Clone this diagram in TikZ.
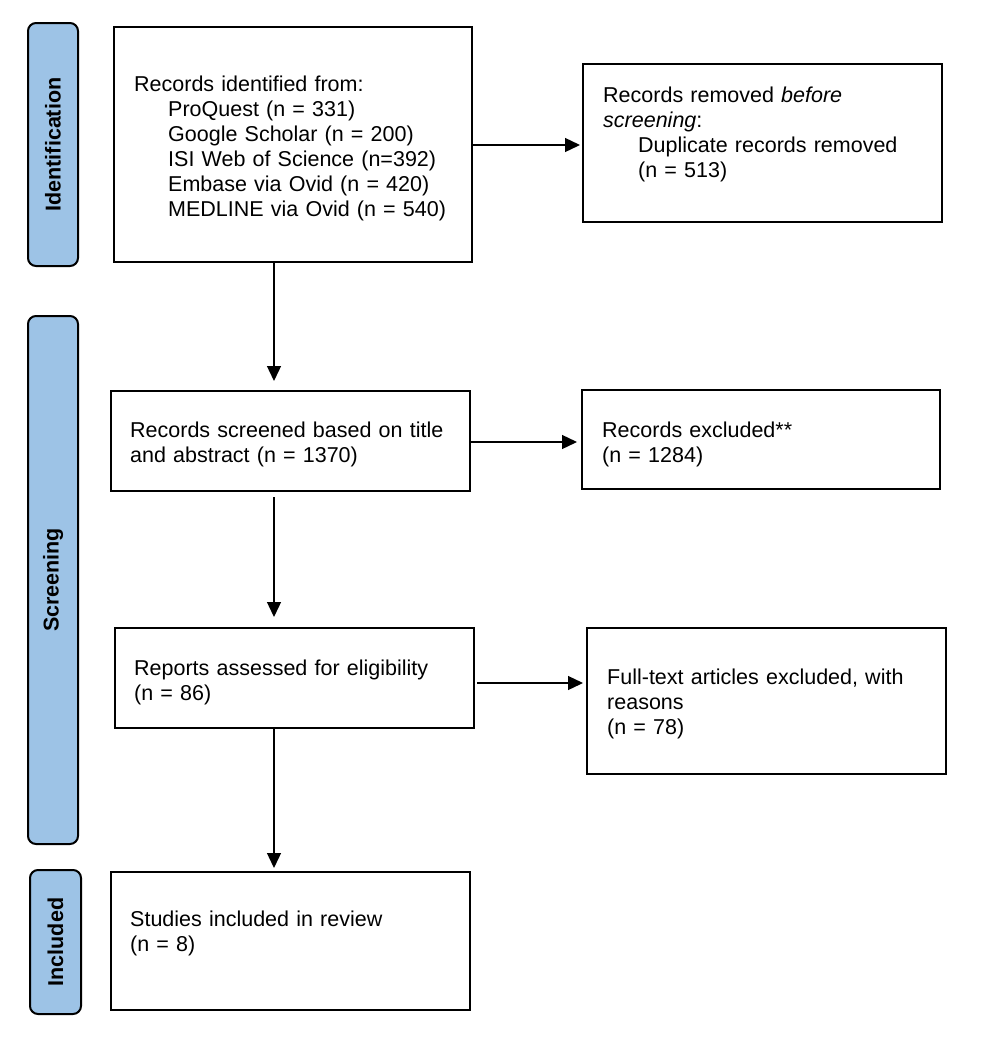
\documentclass[tikz,border=0pt]{standalone}
\usepackage{fontspec}
\setmainfont{Liberation Sans}
\usetikzlibrary{arrows.meta,calc}
\definecolor{barblue}{HTML}{9DC3E6}
\begin{document}
\begin{tikzpicture}[x=1pt,y=-1pt,
  box/.style={draw=black, line width=2pt, inner sep=0pt, outer sep=0pt, fill=white},
  bar/.style={draw=black, line width=2pt, fill=barblue, rounded corners=8pt, inner sep=0pt, outer sep=0pt},
  barlabel/.style={rotate=90, font=\fontsize{21.5}{25}\selectfont\bfseries, inner sep=0pt},
  txt/.style={anchor=base west, inner sep=0pt, align=left, text width=340pt, font=\fontsize{21.5}{25}\selectfont},
  arr/.style={line width=1.3pt, -{Triangle[length=15pt,width=14pt]}}
]
\useasboundingbox (0,0) rectangle (986,1039);
\fill[white] (0,0) rectangle (986,1039);

% side bars
\node[bar, minimum width=50pt, minimum height=243pt] (barI) at (53,144.5) {};
\node[barlabel] (labI) at (barI.center) {Identification};
\node[bar, minimum width=50pt, minimum height=528pt] (barS) at (53,580) {};
\node[barlabel] (labS) at (barS.center) {Screening};
\node[bar, minimum width=51pt, minimum height=144pt] (barN) at (55.5,942) {};
\node[barlabel] (labN) at (barN.center) {Included};

% boxes
\node[box, minimum width=358pt, minimum height=235pt] (ident) at (293,144.5) {};
\node[box, minimum width=359pt, minimum height=158pt] (removed) at (762.5,143) {};
\node[box, minimum width=359pt, minimum height=100pt] (screen) at (290.5,441) {};
\node[box, minimum width=358pt, minimum height=99pt] (excl) at (761,439.5) {};
\node[box, minimum width=359pt, minimum height=100pt] (reports) at (294.5,678) {};
\node[box, minimum width=359pt, minimum height=146pt] (full) at (766.5,701) {};
\node[box, minimum width=359pt, minimum height=138pt] (studies) at (290.5,941) {};

% texts
\node[txt] (tIdent) at (134,91) {Records identified from:\\
\hspace*{34pt}ProQuest (n = 331)\\
\hspace*{34pt}Google Scholar (n = 200)\\
\hspace*{34pt}ISI Web of Science (n=392)\\
\hspace*{34pt}Embase via Ovid (n = 420)\\
\hspace*{34pt}MEDLINE via Ovid (n = 540)};
\node[txt] (tRemoved) at (603,102) {Records removed \textit{before}\\
\textit{screening}:\\
\hspace*{35pt}Duplicate records removed\\
\hspace*{35pt}(n = 513)};
\node[txt] (tScreen) at (130,437) {Records screened based on title\\and abstract (n = 1370)};
\node[txt] (tExcl) at (602,437) {Records excluded**\\(n = 1284)};
\node[txt] (tReports) at (134,675) {Reports assessed for eligibility\\(n = 86)};
\node[txt] (tFull) at (607,684) {Full-text articles excluded, with\\reasons\\(n = 78)};
\node[txt] (tStudies) at (130,926) {Studies included in review\\(n = 8)};

% connectors
\coordinate (ax) at (274,0);
\draw[arr, shorten >=10pt] (ident.south -| ax) -- (screen.north -| ax);
\draw[arr, shorten <=6pt, shorten >=11pt] (screen.south -| ax) -- (reports.north -| ax);
\draw[arr, shorten >=4pt] (reports.south -| ax) -- (studies.north -| ax);
\draw[arr, shorten >=3pt] ([yshift=-0.5pt]ident.east) -- ([yshift=-0.5pt]ident.east -| removed.west);
\draw[arr, shorten >=5pt] ([yshift=-1pt]screen.east) -- ([yshift=-1pt]screen.east -| excl.west);
\draw[arr, shorten <=3pt, shorten >=4pt] ([yshift=-5pt]reports.east) -- ([yshift=-5pt]reports.east -| full.west);
\end{tikzpicture}
\end{document}
